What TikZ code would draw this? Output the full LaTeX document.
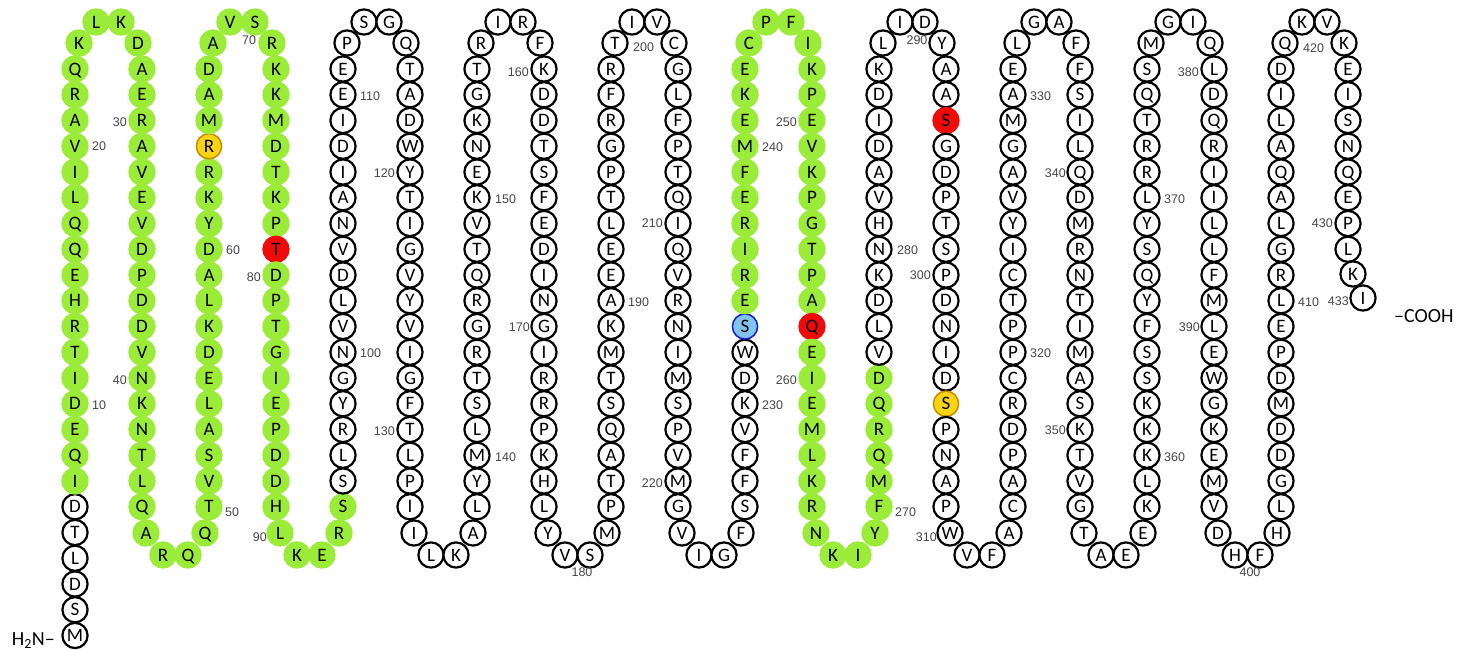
\documentclass[tikz,border=0pt]{standalone}
\usepackage{fontspec}
\setmainfont{Carlito}
\newfontfamily\numfont{Liberation Sans}
\definecolor{resgreen}{RGB}{155,236,56}
\definecolor{resred}{RGB}{240,10,10}
\definecolor{resyellow}{RGB}{248,212,20}
\definecolor{resyellowdark}{RGB}{200,140,0}
\definecolor{resblue}{RGB}{130,195,240}
\definecolor{resbluedark}{RGB}{20,30,200}
\definecolor{numgray}{RGB}{70,70,70}
\tikzset{
 res/.style={circle, minimum size=25.2pt, inner sep=0pt, line width=2.2pt,
   font=\fontsize{19}{19}\selectfont, text height=12.2pt, text depth=0pt},
 wres/.style={res, draw=black, fill=white},
 gres/.style={res, fill=resgreen, draw=resgreen},
 rres/.style={res, fill=resred, draw=resred},
 yres/.style={res, fill=resyellow, draw=resyellowdark, line width=1.5pt},
 bres/.style={res, fill=resblue, draw=resbluedark, line width=1.5pt},
 num/.style={font=\numfont\fontsize{12.5}{12.5}\selectfont, text=numgray, inner sep=0pt},
 term/.style={font=\fontsize{20}{20}\selectfont, inner sep=0pt}
}
\newcommand\resstyle[1]{%
  \def\resst{wres}%
  \ifnum#1>6 \ifnum#1<95 \def\resst{gres}\fi\fi
  \ifnum#1>233 \ifnum#1<276 \def\resst{gres}\fi\fi
  \ifnum#1=64 \def\resst{yres}\fi
  \ifnum#1=79 \def\resst{rres}\fi
  \ifnum#1=258 \def\resst{rres}\fi
  \ifnum#1=294 \def\resst{rres}\fi
  \ifnum#1=305 \def\resst{yres}\fi
  \ifnum#1=233 \def\resst{bres}\fi}
\newcommand\placeres[4]{%
  \pgfmathtruncatemacro\rn{#1}%
  \resstyle{\rn}%
  \node[\resst] (r\rn) at ({#3},{#4}) {#2};}
\newcommand\colup[4]{%
  \foreach \L [count=\k from 0] in {#4}{%
    \placeres{#2+\k}{\L}{75+67*#1}{69+(#3-\k)*25.75}}}
\newcommand\coldown[3]{%
  \foreach \L [count=\k from 0] in {#3}{%
    \placeres{#2+\k}{\L}{75+67*#1}{69+\k*25.75}}}
\newcommand\topturn[6]{%
  \placeres{#2}{#3}{75+67*#1+4}{43}%
  \placeres{#2+1}{#4}{75+67*#1+21}{22}%
  \placeres{#2+2}{#5}{75+67*#1+46}{22}%
  \placeres{#2+3}{#6}{75+67*#1+63}{43}}
\newcommand\botturn[6]{%
  \placeres{#2}{#3}{75+67*#1+4}{533}%
  \placeres{#2+1}{#4}{75+67*#1+21}{555}%
  \placeres{#2+2}{#5}{75+67*#1+46}{555}%
  \placeres{#2+3}{#6}{75+67*#1+63}{533}}
\begin{document}
\begin{tikzpicture}[x=1pt,y=-1pt]
\useasboundingbox (0,0) rectangle (1458,650);
\colup{0}{1}{22}{M,S,D,L,T,D,I,Q,E,D,I,T,R,H,E,Q,Q,L,I,V,A,R,Q}
\topturn{0}{24}{K}{L}{K}{D}
\coldown{1}{28}{A,E,R,A,V,E,V,D,P,D,D,V,N,K,N,T,L,Q}
\botturn{1}{46}{A}{R}{Q}{Q}
\colup{2}{50}{17}{T,V,S,A,L,E,D,K,L,A,D,Y,K,R,R,M,A,D}
\topturn{2}{68}{A}{V}{S}{R}
\coldown{3}{72}{K,K,M,D,T,K,P,T,D,P,T,G,I,E,P,D,D,H}
\botturn{3}{90}{L}{K}{E}{R}
\colup{4}{94}{17}{S,S,L,R,Y,G,N,V,L,D,V,N,A,I,D,I,E,E}
\topturn{4}{112}{P}{S}{G}{Q}
\coldown{5}{116}{T,A,D,W,Y,T,I,G,V,Y,V,I,G,F,T,L,P,I}
\botturn{5}{134}{I}{L}{K}{A}
\colup{6}{138}{17}{L,Y,M,L,S,T,R,G,R,Q,T,V,K,E,N,K,G,T}
\topturn{6}{156}{R}{I}{R}{F}
\coldown{7}{160}{K,D,D,T,S,F,E,D,I,N,G,I,R,R,P,K,H,L}
\botturn{7}{178}{Y}{V}{S}{M}
\colup{8}{182}{17}{P,T,A,Q,S,T,M,K,A,E,E,L,T,P,G,R,F,R}
\topturn{8}{200}{T}{I}{V}{C}
\coldown{9}{204}{G,L,F,P,T,Q,I,Q,V,R,N,I,M,S,P,V,M,G}
\botturn{9}{222}{V}{I}{G}{F}
\colup{10}{226}{17}{S,F,F,V,K,D,W,S,E,R,I,R,E,F,M,E,K,E}
\topturn{10}{244}{C}{P}{F}{I}
\coldown{11}{248}{K,P,E,V,K,P,G,T,P,A,Q,E,I,E,M,L,K,R}
\botturn{11}{266}{N}{K}{I}{Y}
\colup{12}{270}{17}{F,M,Q,R,Q,D,V,L,D,K,N,H,V,A,D,I,D,K}
\topturn{12}{288}{L}{I}{D}{Y}
\coldown{13}{292}{A,A,S,G,D,P,T,S,P,D,N,I,D,S,P,N,A,P}
\botturn{13}{310}{W}{V}{F}{A}
\colup{14}{314}{17}{C,A,P,D,R,C,P,P,T,C,I,Y,V,A,G,M,A,E}
\topturn{14}{332}{L}{G}{A}{F}
\coldown{15}{336}{F,S,I,L,Q,D,M,R,N,T,I,M,A,S,K,T,V,G}
\botturn{15}{354}{T}{A}{E}{E}
\colup{16}{358}{17}{K,L,K,K,K,S,S,F,Y,Q,S,Y,L,R,R,T,Q,S}
\topturn{16}{376}{M}{G}{I}{Q}
\coldown{17}{380}{L,D,Q,R,I,I,L,L,F,M,L,E,W,G,K,E,M,V}
\botturn{17}{398}{D}{H}{F}{H}
\colup{18}{402}{17}{L,G,D,D,M,D,P,E,L,R,G,L,A,Q,A,L,I,D}
\topturn{18}{420}{Q}{K}{V}{K}
\coldown{19}{424}{E,I,S,N,Q,E,P,L}
\placeres{432}{K}{1353}{274}
\placeres{433}{I}{1363}{298}
\foreach \m/\an/\dx/\dy in {10/west/17/1, 20/west/17/0, 30/east/-15/2, 40/east/-15/2,
  50/west/16/5, 60/west/17/1, 70/center/-6/18, 80/east/-15/2, 90/east/-13/4,
  100/west/17/1, 110/west/17/1, 120/east/-15/1, 130/east/-15/2, 140/west/18/2,
  150/west/18/1, 160/east/-15/3, 170/east/-14/1, 180/center/-8/17, 190/west/17/1,
  200/west/18/4, 210/east/-15/0, 220/east/-15/2, 230/west/17/1, 240/west/17/1,
  250/east/-15/2, 260/east/-15/2, 270/west/16/5, 280/west/18/1, 290/center/-8/18,
  300/east/-15/0, 310/east/-13/4, 320/west/17/1, 330/west/17/1, 340/east/-14/1,
  350/east/-14/1, 360/west/17/2, 370/west/17/1, 380/east/-15/3, 390/east/-14/1,
  400/center/-10/17, 410/west/17/1, 420/west/18/5, 430/east/-15/0, 433/east/-14/3}
  \node[num, anchor=\an] (n\m) at ([shift={(\dx,\dy)}]r\m.center) {\m};
\node[term, anchor=base east] (nterm) at (55,645) {H\textsubscript{2}N–};
\node[term, anchor=base west] (cterm) at (1394,322) {–COOH};
\end{tikzpicture}
\end{document}
